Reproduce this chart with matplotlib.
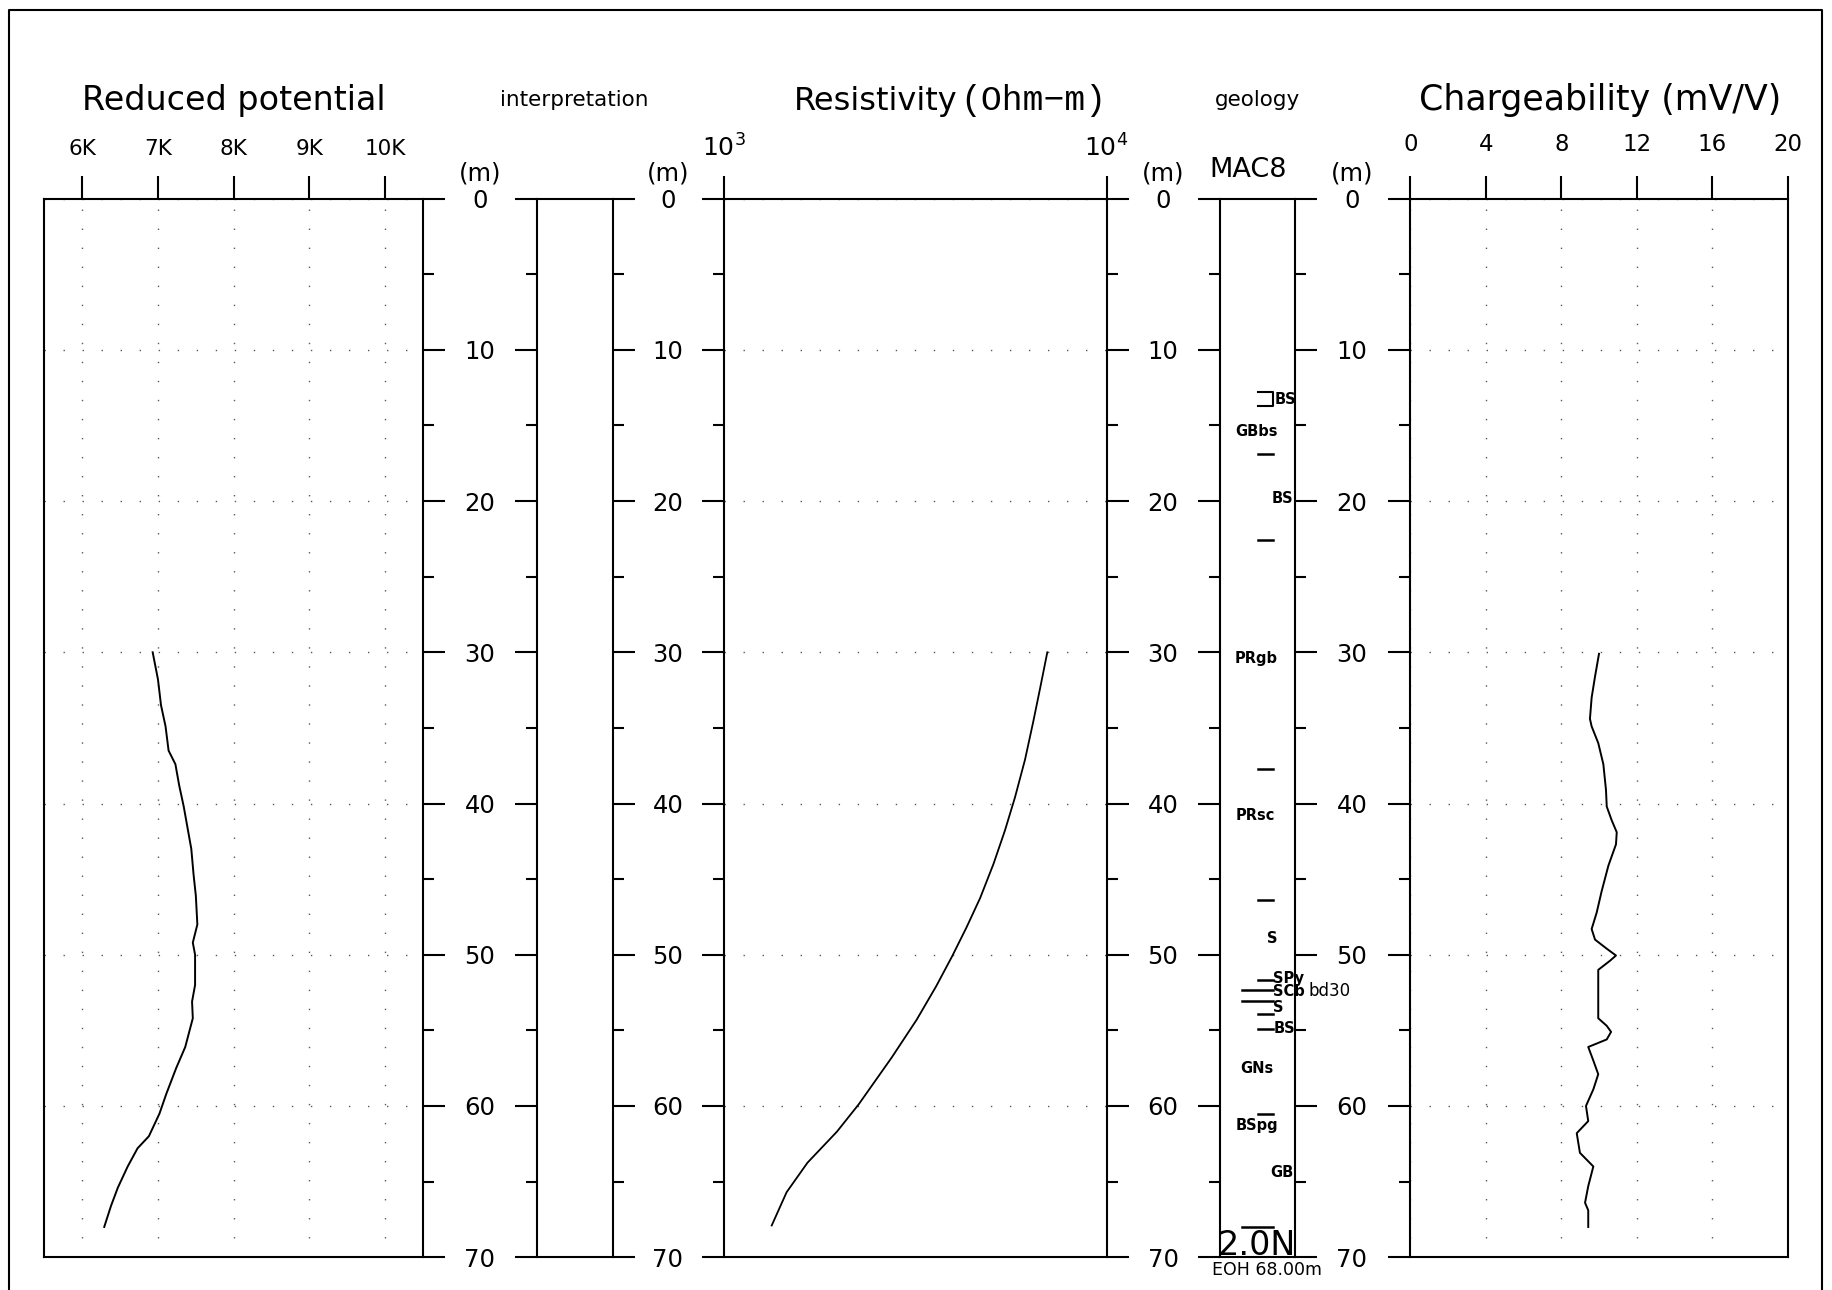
import matplotlib.pyplot as plt
import numpy as np
from matplotlib.lines import Line2D
from matplotlib.ticker import FixedLocator, NullLocator
from matplotlib.transforms import blended_transform_factory

############################### data ###############################

# depth axis (m)
depth_major = [0, 10, 20, 30, 40, 50, 60, 70]
depth_minor = [5, 15, 25, 35, 45, 55, 65]

# reduced potential
pot_ticks = [6000, 7000, 8000, 9000, 10000]
pot_labels = ['6K', '7K', '8K', '9K', '10K']
pot_depth = [30.0, 31.8, 33.5, 34.9, 36.5, 37.4, 38.8, 40.2, 41.6, 43.0, 44.7, 46.1,
             48.0, 49.2, 50.0, 52.0, 53.1, 54.2, 56.1, 57.5, 59.2, 60.5, 62.0, 62.8,
             64.0, 65.4, 66.6, 68.0]
pot_value = [6930, 7000, 7040, 7100, 7140, 7230, 7280, 7340, 7390, 7440, 7470, 7500,
             7520, 7460, 7490, 7490, 7450, 7460, 7360, 7240, 7110, 7020, 6880, 6730,
             6600, 6470, 6380, 6290]

# resistivity (Ohm-m)
res_ticks = [1e3, 1e4]
res_labels = [r'$10^3$', r'$10^4$']
res_depth = [30.0, 32.4, 34.6, 37.1, 39.6, 41.8, 44.0, 46.25, 48.2, 50.1, 52.1, 54.3,
             56.8, 59.9, 61.7, 63.75, 65.7, 67.9]
res_value = [7000, 6700, 6430, 6120, 5760, 5420, 5060, 4670, 4300, 3945, 3580, 3185,
             2740, 2245, 1970, 1650, 1455, 1330]

# chargeability (mV/V)
chg_ticks = [0, 4, 8, 12, 16, 20]
chg_depth = [30.1, 31.6, 33.0, 34.4, 34.9, 36.0, 37.4, 39.1, 40.2, 41.1, 41.9, 42.7,
             44.1, 45.8, 47.2, 48.3, 49.0, 49.6, 50.05, 50.4, 51.0, 54.2, 54.7, 55.1,
             55.6, 56.1, 57.0, 57.9, 58.9, 60.0, 61.0, 61.8, 63.1, 64.0, 65.3, 66.4,
             66.9, 68.0]
chg_value = [10.0, 9.79, 9.61, 9.52, 9.61, 9.96, 10.23, 10.37, 10.41, 10.67, 10.94, 10.90,
             10.50, 10.14, 9.88, 9.61, 9.79, 10.41, 10.90, 10.58, 9.96, 9.96, 10.41, 10.64,
             10.41, 9.43, 9.70, 9.96, 9.70, 9.31, 9.43, 8.82, 8.99, 9.70, 9.43, 9.26,
             9.43, 9.43]

# geology log (hole MAC8)
geo_names = ['BS', 'GBbs', 'BS', 'PRgb', 'PRsc', 'S', 'SPy', 'SCb', 'bd30', 'S', 'BS',
             'GNs', 'BSpg', 'GB']
geo_name_depth = [13.3, 15.4, 19.8, 30.4, 40.8, 48.9, 51.6, 52.4, 52.4, 53.5, 54.9,
                  57.5, 61.3, 64.4]
geo_contact_depth = [16.9, 22.6, 37.7, 46.4, 51.7, 52.3, 53.05, 53.9, 54.9, 60.5, 68.0]
geo_bracket_depth = [12.8, 13.7]
hole_name = 'MAC8'
eoh_text = 'EOH 68.00m'

############################### layout ###############################

W, H = 1832, 1290
Y_TOP, Y_BOT = 198.6, 1257.2  # pixel rows of 0 m and 70 m

# placement of geology labels (x in box fraction, alignment)
geo_name_x = [0.73, 0.49, 0.98, 0.49, 0.48, 0.70, 0.71, 0.71, 1.18, 0.71, 0.72, 0.50, 0.49, 0.98]
geo_name_ha = ['left', 'center', 'right', 'center', 'center', 'center', 'left', 'left',
               'left', 'left', 'left', 'center', 'center', 'right']
long_contacts = [52.3, 53.05, 68.0]

LW = 1.5
fig = plt.figure(figsize=(W / 100, H / 100), dpi=100)


def add_box(x0, x1, left=False, right=False):
    ax = fig.add_axes([x0 / W, 1 - Y_BOT / H, (x1 - x0) / W, (Y_BOT - Y_TOP) / H])
    ax.set_ylim(70, 0)
    for s in ax.spines.values():
        s.set_linewidth(LW)
    ax.yaxis.set_major_locator(FixedLocator(depth_major))
    ax.yaxis.set_minor_locator(FixedLocator(depth_minor))
    ax.tick_params(axis='y', which='major', length=15.8, width=LW)
    ax.tick_params(axis='y', which='minor', length=7.9, width=LW)
    ax.tick_params(axis='y', which='both', left=left, right=right,
                   labelleft=False, labelright=False)
    ax.tick_params(axis='x', which='both', bottom=False, labelbottom=False,
                   top=False, labeltop=False)
    return ax


def top_ticks(ax, ticks, labels, pad, size):
    ax.set_xticks(ticks)
    ax.set_xticklabels(labels)
    ax.xaxis.set_minor_locator(NullLocator())
    ax.tick_params(axis='x', which='major', top=True, labeltop=True, length=16.6,
                   width=LW, pad=pad, labelsize=size)


dots = (0, (1, 12.7))

# reduced potential
ax1 = add_box(44.4, 423.0, right=True)
ax1.set_xlim(5500, 10500)
top_ticks(ax1, pot_ticks, pot_labels, 12, 15.5)
ax1.grid(True, linestyle=dots, color='0.35', lw=1)
ax1.plot(pot_value, pot_depth, color='k', lw=1.4)

# interpretation
ax2 = add_box(537.4, 613.4, left=True, right=True)
ax2.set_xlim(0, 1)

# resistivity
ax3 = add_box(724.4, 1106.5, left=True, right=True)
ax3.set_xscale('log')
ax3.set_xlim(1e3, 1e4)
top_ticks(ax3, res_ticks, res_labels, 10, 18)
ax3.grid(True, axis='y', linestyle=dots, color='0.35', lw=1)
ax3.plot(res_value, res_depth, color='k', lw=1.3)

# geology
ax4 = add_box(1219.8, 1294.6, left=True, right=True)
ax4.set_xlim(0, 1)
for d in geo_contact_depth:
    x0 = 0.30 if d in long_contacts else 0.51
    ax4.plot([x0, 0.71], [d, d], color='k', lw=1.8, clip_on=False)
ax4.plot([0.51, 0.71, 0.71, 0.51], [geo_bracket_depth[0], geo_bracket_depth[0],
         geo_bracket_depth[1], geo_bracket_depth[1]], color='k', lw=1.5)
for name, d, x, ha in zip(geo_names, geo_name_depth, geo_name_x, geo_name_ha):
    if name == 'bd30':
        ax4.text(x, d, name, ha=ha, va='center', fontsize=12, clip_on=False)
    else:
        ax4.text(x, d, name, ha=ha, va='center', fontsize=10.5, fontweight='bold',
                 clip_on=False)
ax4.text(-0.03, 69.85, '2.0N', ha='left', va='baseline', fontsize=24)

# chargeability
ax5 = add_box(1410.3, 1787.7, left=True)
ax5.set_xlim(0, 20)
top_ticks(ax5, chg_ticks, [str(t) for t in chg_ticks], 14, 16.5)
ax5.grid(True, linestyle=dots, color='0.35', lw=1)
ax5.plot(chg_value, chg_depth, color='k', lw=1.4)

# depth labels between the boxes
tr = blended_transform_factory(fig.transFigure, ax1.transData)
for xc in [480, 668, 1163, 1352]:
    for d in depth_major:
        fig.text(xc / W, d, str(d), transform=tr, ha='center', va='center_baseline',
                 fontsize=17.5)
    fig.text(xc / W, 1 - 173 / H, '(m)', ha='center', va='center', fontsize=17.5)

# titles
fig.text(234 / W, 1 - 110 / H, 'Reduced potential', ha='center', va='baseline', fontsize=24)
fig.text(574 / W, 1 - 106 / H, 'interpretation', ha='center', va='baseline', fontsize=15.5)
fig.text(958 / W, 1 - 110 / H, 'Resistivity', ha='right', va='baseline', fontsize=23)
fig.text(960 / W, 1 - 110 / H, '(Ohm\u2212m)', ha='left', va='baseline', fontsize=25,
         family=['Liberation Mono', 'DejaVu Sans Mono'])
fig.text(1257 / W, 1 - 106 / H, 'geology', ha='center', va='baseline', fontsize=15.5)
fig.text(1600 / W, 1 - 110 / H, 'Chargeability (mV/V)', ha='center', va='baseline', fontsize=25)
fig.text(1248 / W, 1 - 177 / H, hole_name, ha='center', va='baseline', fontsize=19.5)
fig.text(1212 / W, 1 - 1270 / H, eoh_text, ha='left', va='center', fontsize=12.5)

# outer frame
fig.add_artist(Line2D([9 / W, 9 / W, 1822 / W, 1822 / W], [0, 1 - 10 / H, 1 - 10 / H, 0],
                      transform=fig.transFigure, color='k', lw=LW))

fig.savefig('out.png', dpi=100)
